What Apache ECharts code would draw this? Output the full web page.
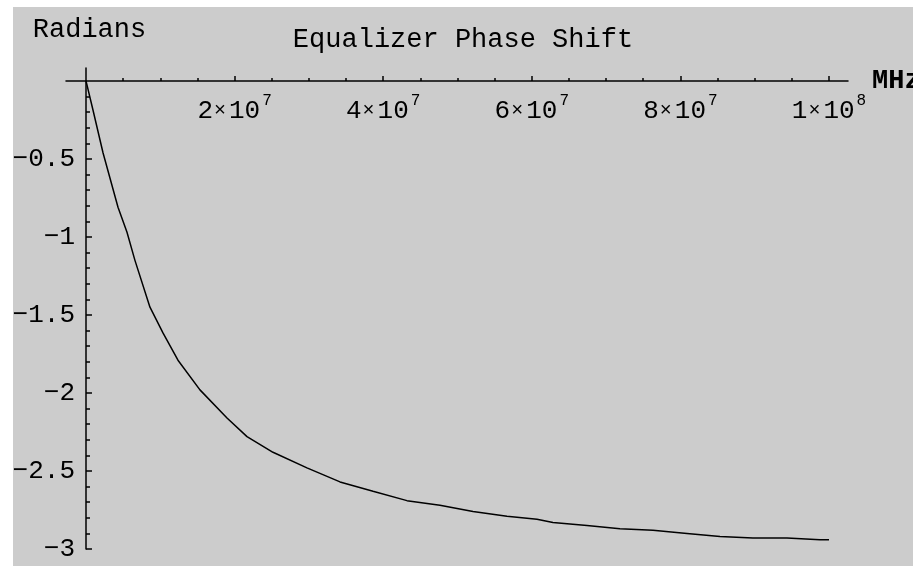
<!DOCTYPE html>
<html><head><meta charset="utf-8">
<script src="https://cdn.jsdelivr.net/npm/echarts@6/dist/echarts.min.js"></script>
<style>
html,body{margin:0;padding:0;background:#fff;width:913px;height:566px;overflow:hidden}
#c{position:absolute;left:13px;top:7px;width:900px;height:559px}
</style></head><body><div id="c"></div>
<script>
// Frequency (Hz) and phase shift (radians)
const freqHz = [0, 0.94e6, 2.29e6, 4.31e6, 5.52e6, 6.59e6, 8.61e6, 1.036e7, 1.238e7, 1.534e7,
  1.898e7, 2.167e7, 2.517e7, 2.974e7, 3.419e7, 3.863e7, 4.320e7, 4.764e7, 5.209e7, 5.666e7,
  6.070e7, 6.285e7, 6.743e7, 7.187e7, 7.631e7, 8.089e7, 8.533e7, 8.977e7, 9.435e7, 9.879e7, 1.0e8];
const phaseRad = [0, -0.186, -0.46, -0.81, -0.97, -1.15, -1.45, -1.615, -1.79, -1.98,
  -2.16, -2.28, -2.38, -2.48, -2.57, -2.63, -2.69, -2.72, -2.76, -2.79,
  -2.81, -2.83, -2.85, -2.87, -2.88, -2.90, -2.92, -2.93, -2.93, -2.94, -2.94];

const xMajorTicks = [2e7, 4e7, 6e7, 8e7, 1e8];
const xMinorTicks = [5e6, 1e7, 1.5e7, 2.5e7, 3e7, 3.5e7, 4.5e7, 5e7, 5.5e7, 6.5e7, 7e7, 7.5e7, 8.5e7, 9e7, 9.5e7];
const yMajorTicks = [-3, -2.5, -2, -1.5, -1, -0.5];
const yMinorTicks = [-2.9, -2.8, -2.7, -2.6, -2.4, -2.3, -2.2, -2.1, -1.9, -1.8, -1.7, -1.6,
  -1.4, -1.3, -1.2, -1.1, -0.9, -0.8, -0.7, -0.6, -0.4, -0.3, -0.2, -0.1];
const xRange = [-2.69e6, 1.0256e8];
const yRange = [-3, 0.083];

const FONT = '"Liberation Mono", "Courier New", monospace';
const INK = '#000';
const W = 900, H = 559;
const grid = {left: 53, right: 65, top: 61, bottom: 17};
const gw = W - grid.left - grid.right, gh = H - grid.top - grid.bottom;
// axes cross at the origin (0,0): shift each axis from the grid edge to zero
const yAxisShift = -((0 - xRange[0]) / (xRange[1] - xRange[0])) * gw;
const xAxisShift = -((0 - yRange[0]) / (yRange[1] - yRange[0])) * gh;

function sciLabel(v) {
  const e = Math.floor(Math.log10(v) + 1e-9);
  const m = Math.round(v / Math.pow(10, e));
  return '{m|' + m + '}{x|×}{m|10}{e|' + e + '}';
}
function yLabel(v) {
  return String(v).replace('-', '−');
}

const chart = echarts.init(document.getElementById('c'), null, {renderer: 'canvas'});
const axisLineStyle = {color: INK, width: 1.5};
chart.setOption({
  animation: false,
  backgroundColor: '#cccccc',
  title: {
    text: 'Equalizer Phase Shift', left: 'center', top: 19, padding: 0,
    textStyle: {fontFamily: FONT, fontSize: 27, fontWeight: 'normal', color: INK}
  },
  grid: Object.assign({containLabel: false, outerBoundsMode: 'none'}, grid),
  xAxis: [{
    type: 'value', min: xRange[0], max: xRange[1], position: 'bottom', offset: xAxisShift,
    name: 'MHz', nameLocation: 'end', nameGap: 24,
    nameTextStyle: {fontFamily: FONT, fontSize: 27, fontWeight: 'bold', color: INK, padding: [0, 0, 5, 0]},
    axisLine: {show: true, onZero: false, lineStyle: axisLineStyle},
    axisTick: {show: true, inside: true, length: 5, customValues: xMajorTicks, lineStyle: {color: INK, width: 1.5}},
    axisLabel: {
      show: true, customValues: xMajorTicks, margin: 12, color: INK,
      formatter: sciLabel,
      rich: {
        m: {fontFamily: FONT, fontSize: 26, color: INK, padding: [5, 0, 0, 0]},
        x: {fontFamily: FONT, fontSize: 20, color: INK, padding: [5, 3, 0, 1]},
        e: {fontFamily: FONT, fontSize: 16, color: INK, verticalAlign: 'top', padding: [0, 0, 0, 2]}
      }
    },
    splitLine: {show: false}
  }, {
    type: 'value', min: xRange[0], max: xRange[1], position: 'bottom', offset: xAxisShift,
    axisLine: {show: true, onZero: false, lineStyle: {opacity: 0}},
    axisTick: {show: true, inside: true, length: 3, customValues: xMinorTicks, lineStyle: {color: INK, width: 1.5}},
    axisLabel: {show: false},
    splitLine: {show: false}
  }],
  yAxis: [{
    type: 'value', min: yRange[0], max: yRange[1], position: 'left', offset: yAxisShift,
    name: 'Radians', nameLocation: 'end', nameGap: 25,
    nameTextStyle: {fontFamily: FONT, fontSize: 27, color: INK, align: 'center', padding: [0, 0, 0, 7]},
    axisLine: {show: true, onZero: false, lineStyle: axisLineStyle},
    axisTick: {show: true, inside: true, length: 6, customValues: yMajorTicks, lineStyle: {color: INK, width: 1.5}},
    axisLabel: {show: true, customValues: yMajorTicks, margin: 11, formatter: yLabel,
      fontFamily: FONT, fontSize: 26, color: INK},
    splitLine: {show: false}
  }, {
    type: 'value', min: yRange[0], max: yRange[1], position: 'left', offset: yAxisShift,
    axisLine: {show: true, onZero: false, lineStyle: {opacity: 0}},
    axisTick: {show: true, inside: true, length: 4, customValues: yMinorTicks, lineStyle: {color: INK, width: 1.5}},
    axisLabel: {show: false},
    splitLine: {show: false}
  }],
  series: [{
    type: 'line', xAxisIndex: 0, yAxisIndex: 0,
    data: freqHz.map((f, i) => [f, phaseRad[i]]),
    showSymbol: false, symbol: 'none', smooth: false,
    lineStyle: {color: INK, width: 1.5},
    silent: true
  }]
});
</script></body></html>
